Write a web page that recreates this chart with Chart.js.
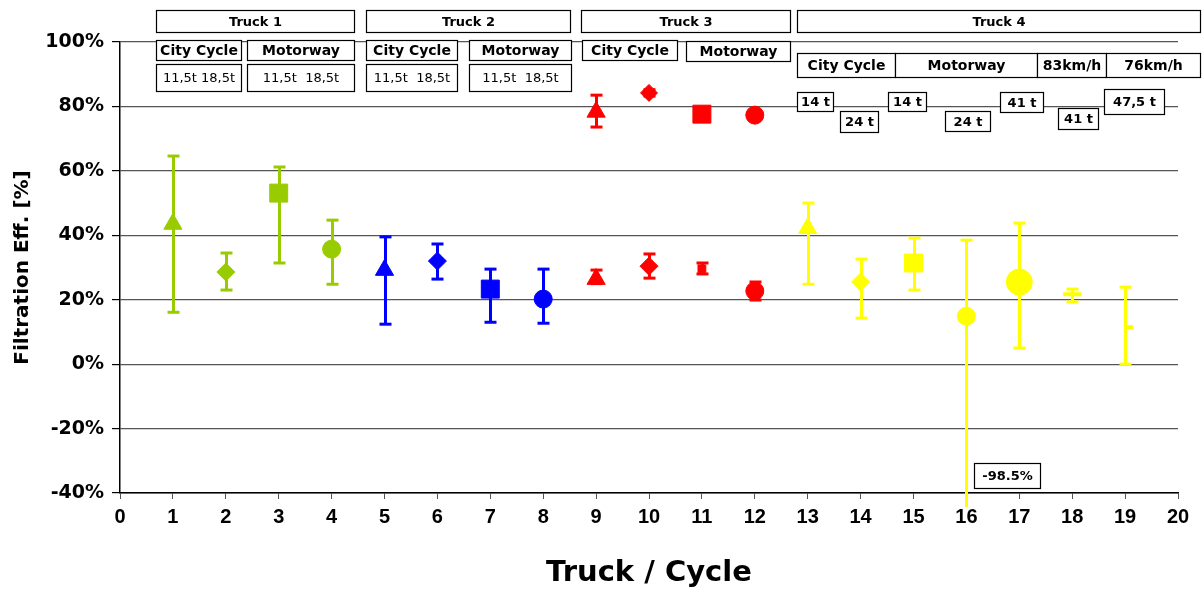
<!DOCTYPE html>
<html><head><meta charset="utf-8">
<script src="https://cdn.jsdelivr.net/npm/chart.js@4"></script>
<style>html,body{margin:0;padding:0;background:#fff}#wrap{width:1204px;height:592px;position:relative}</style>
</head><body><div id="wrap"><canvas id="c" width="1204" height="592" style="width:1204px;height:592px"></canvas></div>
<script>
// ---- data ----
const truck1X  = [1, 2, 3, 4];
const truck1Y  = [43.5, 28.6, 53.1, 35.7];
const truck1Lo = [16.1, 23.0, 31.4, 24.8];
const truck1Hi = [64.6, 34.5, 61.2, 44.7];

const truck2X  = [5, 6, 7, 8];
const truck2Y  = [29.2, 32.0, 23.3, 20.2];
const truck2Lo = [12.4, 26.4, 13.0, 12.7];
const truck2Hi = [39.5, 37.3, 29.5, 29.5];

const truck3X  = [9, 10, 11, 12, 9, 10, 11, 12];
const truck3Y  = [78.3, 84.2, 77.6, 77.3, 26.4, 30.4, 29.6, 22.7];
const truck3Lo = [73.6, 83.2, 77.6, 77.3, 25.0, 26.7, 28.0, 19.9];
const truck3Hi = [83.5, 85.2, 77.6, 77.3, 29.2, 34.2, 31.4, 25.5];

const truck4X  = [13, 14, 15, 16, 17, 18, 19];
const truck4Y  = [42.2, 25.5, 31.4, 14.9, 25.5, 21.7, 11.5];
const truck4Lo = [24.8, 14.3, 23.0, -98.5, 5.0, 19.3, 0.0];
const truck4Hi = [50.0, 32.6, 39.1, 38.5, 43.8, 23.3, 23.9];

const xTicks = [0,1,2,3,4,5,6,7,8,9,10,11,12,13,14,15,16,17,18,19,20];
const yTicks = [-40,-20,0,20,40,60,80,100];

// ---- styles ----
const GREEN='#99CC00', BLUE='#0000FF', RED='#FF0000', YELLOW='#FFFF00';
const style4 = ['triangle','rectRot','rect','circle'];
const radius4 = [10.5, 9, 12.7, 9];

function pts(xs, ys){ return xs.map((x,i)=>({x:x, y:ys[i]})); }
function ds(xs, ys, lo, hi, color, styles, radii, bw){
  return {
    data: pts(xs, ys), errLo: lo, errHi: hi,
    backgroundColor: color, borderColor: color,
    pointStyle: styles, pointRadius: radii, pointBorderWidth: bw || 1,
    pointHoverRadius: radii
  };
}

// annotation boxes (x in axis units, y in % units)
const boxes = [
  {t:'Truck 1', x0:0.673, x1:4.43,  y0:109.9, y1:103.1, f:'bold 13px "DejaVu Sans"'},
  {t:'Truck 2', x0:4.656, x1:8.507, y0:109.9, y1:103.1, f:'bold 13px "DejaVu Sans"'},
  {t:'Truck 3', x0:8.715, x1:12.66, y0:109.9, y1:103.1, f:'bold 13px "DejaVu Sans"'},
  {t:'Truck 4', x0:12.79, x1:20.42, y0:109.9, y1:103.1, f:'bold 13px "DejaVu Sans"'},
  {t:'City Cycle', x0:0.673, x1:2.285, y0:100.6, y1:94.4, f:'bold 14px "DejaVu Sans"'},
  {t:'Motorway',   x0:2.399, x1:4.43,  y0:100.6, y1:94.4, f:'bold 14px "DejaVu Sans"'},
  {t:'City Cycle', x0:4.656, x1:6.363, y0:100.6, y1:94.4, f:'bold 14px "DejaVu Sans"'},
  {t:'Motorway',   x0:6.59,  x1:8.525, y0:100.6, y1:94.4, f:'bold 14px "DejaVu Sans"'},
  {t:'City Cycle', x0:8.734, x1:10.52, y0:100.6, y1:94.4, f:'bold 14px "DejaVu Sans"'},
  {t:'Motorway',   x0:10.69, x1:12.66, y0:100.3, y1:94.1, f:'bold 14px "DejaVu Sans"'},
  {t:'11,5t 18,5t',  x0:0.673, x1:2.285, y0:93.2, y1:84.8, f:'13px "DejaVu Sans"'},
  {t:'11,5t  18,5t', x0:2.399, x1:4.43,  y0:93.2, y1:84.8, f:'13px "DejaVu Sans"'},
  {t:'11,5t  18,5t', x0:4.656, x1:6.363, y0:93.2, y1:84.8, f:'13px "DejaVu Sans"'},
  {t:'11,5t  18,5t', x0:6.59,  x1:8.525, y0:93.2, y1:84.8, f:'13px "DejaVu Sans"'},
  {t:'City Cycle', x0:12.79, x1:14.65, y0:96.6, y1:89.1, f:'bold 14px "DejaVu Sans"'},
  {t:'Motorway',   x0:14.65, x1:17.34, y0:96.6, y1:89.1, f:'bold 14px "DejaVu Sans"'},
  {t:'83km/h',     x0:17.34, x1:18.63, y0:96.6, y1:89.1, f:'bold 14px "DejaVu Sans"'},
  {t:'76km/h',     x0:18.63, x1:20.42, y0:96.6, y1:89.1, f:'bold 14px "DejaVu Sans"'},
  {t:'14 t',   x0:12.79, x1:13.47, y0:84.5, y1:78.6, f:'bold 13px "DejaVu Sans"'},
  {t:'24 t',   x0:13.61, x1:14.33, y0:78.6, y1:72.1, f:'bold 13px "DejaVu Sans"'},
  {t:'14 t',   x0:14.52, x1:15.24, y0:84.5, y1:78.6, f:'bold 13px "DejaVu Sans"'},
  {t:'24 t',   x0:15.60, x1:16.45, y0:78.6, y1:72.4, f:'bold 13px "DejaVu Sans"'},
  {t:'41 t',   x0:16.64, x1:17.44, y0:84.5, y1:78.3, f:'bold 13px "DejaVu Sans"'},
  {t:'41 t',   x0:17.74, x1:18.48, y0:79.5, y1:73.0, f:'bold 13px "DejaVu Sans"'},
  {t:'47,5 t', x0:18.61, x1:19.73, y0:85.4, y1:77.8, f:'bold 13px "DejaVu Sans"'},
  {t:'-98.5%', x0:16.15, x1:17.40, y0:-30.7, y1:-38.5, f:'bold 13px "DejaVu Sans"'}
];

const errorBars = {
  id:'errorBars',
  beforeDatasetsDraw(chart){
    const {ctx, chartArea:a, scales:{x,y}} = chart;
    ctx.save();
    ctx.beginPath();
    ctx.rect(a.left, a.top-8, a.right-a.left, a.bottom-a.top+22);
    ctx.clip();
    chart.data.datasets.forEach(d=>{
      if(!d.errLo) return;
      ctx.strokeStyle = d.borderColor;
      d.data.forEach((p,i)=>{
        const lo=d.errLo[i], hi=d.errHi[i];
        if(lo===hi) return;
        const px = Math.round(x.getPixelForValue(p.x))+0.5;
        const yl = y.getPixelForValue(lo), yh = y.getPixelForValue(hi);
        ctx.lineWidth = 3;
        ctx.beginPath(); ctx.moveTo(px, yl); ctx.lineTo(px, yh); ctx.stroke();
        ctx.lineWidth = 3;
        [yl, yh].forEach(yy=>{
          if(yy > a.bottom+2 || yy < a.top-8) return;
          ctx.beginPath(); ctx.moveTo(px-6, yy); ctx.lineTo(px+6, yy); ctx.stroke();
        });
      });
    });
    ctx.restore();
  }
};

const textBoxes = {
  id:'textBoxes',
  afterDraw(chart){
    const {ctx, scales:{x,y}} = chart;
    ctx.save();
    boxes.forEach(b=>{
      const l = Math.round(x.getPixelForValue(b.x0))+0.5, r = Math.round(x.getPixelForValue(b.x1))+0.5;
      const t = Math.round(y.getPixelForValue(b.y0))+0.5, bt = Math.round(y.getPixelForValue(b.y1))+0.5;
      ctx.fillStyle='#fff'; ctx.fillRect(l,t,r-l,bt-t);
      ctx.strokeStyle='#000'; ctx.lineWidth=1.2; ctx.strokeRect(l,t,r-l,bt-t);
      ctx.fillStyle='#000'; ctx.font=b.f; ctx.textAlign='center'; ctx.textBaseline='middle';
      ctx.fillText(b.t, (l+r)/2, (t+bt)/2+1);
    });
    ctx.restore();
  }
};

new Chart(document.getElementById('c'), {
  type:'scatter',
  data:{ datasets:[
    ds(truck1X, truck1Y, truck1Lo, truck1Hi, GREEN, style4, radius4),
    ds(truck2X, truck2Y, truck2Lo, truck2Hi, BLUE, style4, radius4),
    ds(truck3X, truck3Y, truck3Lo, truck3Hi, RED,
       ['triangle','rectRot','rect','circle','triangle','rectRot','rect','circle'],
       [10.5, 8.5, 12.7, 9, 10.5, 9, 5.5, 9]),
    ds(truck4X, truck4Y, truck4Lo, truck4Hi, YELLOW,
       ['triangle','rectRot','rect','circle','circle','line','dash'],
       [10.5, 9, 12.7, 9, 13, 9, 8], [1,1,1,1,1,4,4])
  ]},
  options:{
    responsive:false, animation:false, devicePixelRatio:1,
    layout:{ padding:{ top:42, right:26, left:0, bottom:0 } },
    plugins:{ legend:{display:false}, tooltip:{enabled:false} },
    scales:{
      x:{
        type:'linear', min:0, max:20,
        afterBuildTicks(s){ s.ticks = xTicks.map(v=>({value:v})); },
        afterFit(s){ s.height = 99; },
        grid:{ drawOnChartArea:false, drawTicks:true, tickLength:6, tickColor:'#555', tickWidth:1 },
        border:{ display:true, color:'#000', width:1.5 },
        ticks:{ color:'#000', padding:6, autoSkip:false, font:{ family:'"Liberation Sans"', weight:'bold', size:20 }, maxRotation:0 },
        title:{ display:true, text:'Truck / Cycle', color:'#000',
                font:{ family:'"DejaVu Sans"', weight:'bold', size:29, lineHeight:1 }, padding:{top:0,bottom:4} }
      },
      y:{
        type:'linear', min:-40, max:100,
        afterBuildTicks(s){ s.ticks = yTicks.map(v=>({value:v})); },
        afterFit(s){ s.width = 120; },
        grid:{ color:'#555', lineWidth:1.2, drawTicks:true, tickLength:8, tickColor:'#000' },
        border:{ display:true, color:'#000', width:1.5 },
        ticks:{ color:'#000', padding:8, autoSkip:false, callback:v=>v+'%', font:{ family:'"DejaVu Sans"', weight:'bold', size:19 } },
        title:{ display:true, text:'Filtration Eff. [%]', color:'#000',
                font:{ family:'"DejaVu Sans"', weight:'bold', size:20, lineHeight:1 }, padding:{top:13,bottom:0} }
      }
    }
  },
  plugins:[errorBars, textBoxes]
});
</script></body></html>
